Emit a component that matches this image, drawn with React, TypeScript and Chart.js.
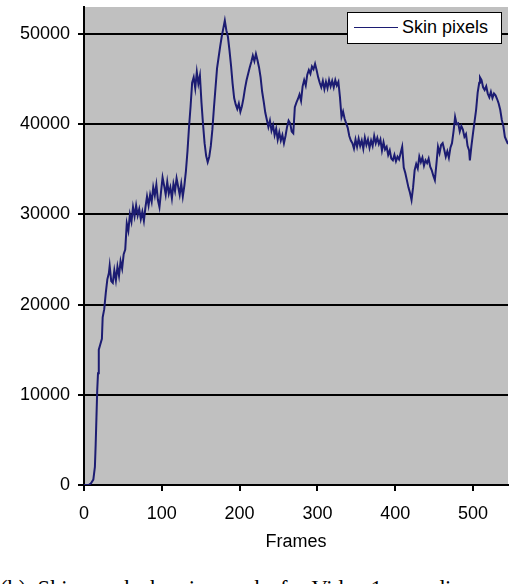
import React, { useEffect, useRef } from "react";
import { Chart, registerables } from "chart.js";

Chart.register(...registerables);

const frames = [
  0, 3, 6, 9, 12, 14, 15, 16, 17, 18,
  19, 21, 23, 24, 26, 28, 30, 32, 33, 35,
  37, 39, 41, 43, 45, 47, 49, 51, 53, 55,
  57, 59, 61, 63, 65, 67, 69, 71, 73, 75,
  77, 79, 81, 83, 85, 87, 89, 91, 93, 95,
  97, 99, 101, 103, 105, 107, 109, 111, 113, 115,
  117, 119, 121, 123, 125, 127, 129, 131, 133, 135,
  137, 139, 141, 143, 145, 147, 149, 151, 153, 155,
  157, 159, 161, 163, 165, 167, 169, 171, 173, 175,
  177, 179, 181, 183, 185, 187, 189, 191, 193, 195,
  197, 199, 201, 203, 205, 207, 209, 211, 213, 215,
  217, 219, 221, 223, 225, 227, 229, 231, 233, 235,
  237, 239, 241, 243, 245, 247, 249, 251, 253, 255,
  257, 259, 261, 263, 265, 267, 269, 271, 273, 275,
  277, 279, 281, 283, 285, 287, 289, 291, 293, 295,
  297, 299, 301, 303, 305, 307, 309, 311, 313, 315,
  317, 319, 321, 323, 325, 327, 329, 331, 333, 335,
  337, 339, 341, 343, 345, 347, 349, 351, 353, 355,
  357, 359, 361, 363, 365, 367, 369, 371, 373, 375,
  377, 379, 381, 383, 385, 387, 389, 391, 393, 395,
  397, 399, 401, 403, 405, 407, 409, 411, 413, 415,
  417, 419, 421, 423, 425, 427, 429, 431, 433, 435,
  437, 439, 441, 443, 445, 447, 449, 451, 453, 455,
  457, 459, 461, 463, 465, 467, 469, 471, 473, 475,
  477, 479, 481, 483, 485, 487, 489, 491, 493, 495,
  496, 498, 500, 502, 504, 506, 508, 509, 511, 513,
  515, 517, 519, 521, 523, 525, 527, 529, 531, 533,
  535, 537, 539, 541, 543, 545,
];

const skinPixels = [
  0, 0, 0, 200, 600, 2000, 4500, 7500, 10500, 12400,
  15000, 15600, 16200, 18600, 19500, 21300, 22800, 23500, 24300, 22600,
  22400, 23800, 22700, 24200, 23200, 24800, 24000, 25600, 26100, 29000,
  28200, 30000, 29200, 30800, 29800, 31000, 29900, 30600, 29500, 30300,
  29300, 30800, 32000, 31000, 32200, 31400, 33000, 32100, 33300, 31600,
  30800, 32500, 34100, 33200, 32200, 33600, 32300, 33000, 31800, 33400,
  32600, 34000, 33100, 32200, 33400, 32000, 33200, 34800, 37000, 39700,
  42000, 44600, 45200, 44000, 45800, 44500, 45400, 42400, 40000, 37900,
  36500, 35800, 36400, 37600, 39400, 41800, 44000, 46200, 47400, 48600,
  49700, 50600, 51500, 50400, 49700, 48200, 46500, 44500, 42900, 42200,
  41700, 42300, 41400, 42000, 42900, 44000, 44900, 45600, 46300, 46900,
  47600, 47000, 47800, 47100, 46300, 45200, 43600, 42500, 41300, 40500,
  39700, 40400, 39300, 39900, 38800, 39500, 38300, 39100, 38200, 38800,
  37900, 38700, 39700, 40400, 40100, 39200, 39000, 41900, 42400, 42800,
  43300, 42600, 44200, 44900, 44300, 45500, 46000, 45600, 46400, 46100,
  46700, 46000, 45200, 44600, 44100, 44800, 43900, 44700, 44000, 44900,
  44200, 44800, 44100, 44900, 44300, 44700, 43000, 40800, 41400, 40600,
  40100, 39600, 38700, 38200, 37900, 37300, 38300, 37500, 38400, 37600,
  38200, 37300, 38500, 37700, 38300, 37400, 38200, 37600, 38700, 37900,
  38500, 37800, 38300, 37100, 38000, 37200, 37500, 36600, 37100, 36200,
  36000, 36600, 35900, 36400, 36100, 36800, 37500, 35200, 34600, 33800,
  33000, 32400, 31600, 33000, 34900, 35600, 35100, 36400, 35800, 36300,
  35400, 36000, 35700, 36200, 35300, 34900, 34300, 33800, 35600, 37500,
  36800, 37700, 37900, 37200, 36400, 37000, 36300, 37400, 37900, 39200,
  40800, 40000, 40100, 39200, 39800, 39400, 38600, 38900, 37600, 37100,
  36000, 37600, 39000, 40300, 41600, 43500, 44600, 45200, 44900, 44100,
  43800, 44200, 43400, 43000, 43600, 42900, 43400, 43200, 42800, 42300,
  41600, 40500, 39800, 38600, 38200, 37800,
];

const xTicks = [0, 100, 200, 300, 400, 500];
const yTicks = [0, 10000, 20000, 30000, 40000, 50000];
const seriesLabel = "Skin pixels";
const xTitle = "Frames";
const caption = "(b)  Skin graph showing peaks for Video 1 regarding cor-";

const LINE_COLOR = "#1c1c72";
const SANS = "'Liberation Sans', Arial, sans-serif";

const plotBackground = {
  id: "plotBackground",
  beforeDraw(chart: any) {
    const { ctx, chartArea: a } = chart;
    ctx.save();
    ctx.fillStyle = "#c0c0c0";
    ctx.fillRect(a.left, a.top, a.right - a.left, a.bottom - a.top);
    ctx.restore();
  },
};

export default function App() {
  const canvasRef = useRef<HTMLCanvasElement | null>(null);

  useEffect(() => {
    const canvas = canvasRef.current;
    if (!canvas) return;
    const chart = new Chart(canvas, {
      type: "line",
      data: {
        datasets: [
          {
            label: seriesLabel,
            data: frames.map((f, i) => ({ x: f, y: skinPixels[i] })),
            borderColor: LINE_COLOR,
            borderWidth: 2,
            pointRadius: 0,
            tension: 0,
            fill: false,
          },
        ],
      },
      options: {
        responsive: false,
        animation: false,
        devicePixelRatio: 1,
        layout: { padding: { top: 7, right: 2, left: 0, bottom: 0 } },
        plugins: {
          legend: { display: false },
          tooltip: { enabled: false },
        },
        scales: {
          x: {
            type: "linear",
            min: 0,
            max: 545,
            afterBuildTicks: (s: any) => {
              s.ticks = xTicks.map((v) => ({ value: v }));
            },
            afterFit: (s: any) => {
              s.height = 75;
              s.paddingLeft = 0;
              s.paddingRight = 0;
            },
            grid: {
              drawOnChartArea: false,
              drawTicks: true,
              tickLength: 6,
              color: "#000",
              lineWidth: 2,
            },
            border: { display: true, color: "#000", width: 2 },
            ticks: {
              color: "#000",
              font: { family: SANS, size: 18 },
              padding: 12,
              maxRotation: 0,
              autoSkip: false,
              callback: (v: any) => String(v),
            },
            title: {
              display: true,
              text: xTitle,
              color: "#000",
              font: { family: SANS, size: 18 },
              padding: { top: 4, bottom: 7 },
            },
          },
          y: {
            type: "linear",
            min: 0,
            max: 53000,
            afterBuildTicks: (s: any) => {
              s.ticks = yTicks.map((v) => ({ value: v }));
            },
            afterFit: (s: any) => {
              s.width = 84;
              s.paddingTop = 0;
              s.paddingBottom = 0;
            },
            grid: {
              drawOnChartArea: true,
              drawTicks: true,
              tickLength: 6,
              color: "#000",
              lineWidth: 2,
            },
            border: { display: true, color: "#000", width: 2 },
            ticks: {
              color: "#000",
              font: { family: SANS, size: 18 },
              padding: 8,
              autoSkip: false,
              callback: (v: any) => String(v),
            },
          },
        },
      },
      plugins: [plotBackground],
    });
    return () => chart.destroy();
  }, []);

  return (
    <div
      style={{
        position: "absolute",
        left: 0,
        top: 0,
        width: 510,
        height: 584,
        overflow: "hidden",
        background: "#fff",
      }}
    >
      <canvas
        ref={canvasRef}
        width={510}
        height={560}
        style={{ position: "absolute", left: 0, top: 0, width: 510, height: 560 }}
      />
      <div
        style={{
          position: "absolute",
          left: 347,
          top: 12,
          width: 155,
          height: 32,
          boxSizing: "border-box",
          border: "1.5px solid #000",
          background: "#fff",
          fontFamily: SANS,
          fontSize: 18,
          color: "#000",
        }}
      >
        <div
          style={{
            position: "absolute",
            left: 6,
            top: 14,
            width: 44,
            height: 0,
            borderTop: `1.6px solid ${LINE_COLOR}`,
          }}
        />
        <div
          style={{
            position: "absolute",
            left: 54,
            top: 4,
            lineHeight: "20px",
            whiteSpace: "nowrap",
          }}
        >
          {seriesLabel}
        </div>
      </div>
      <div
        style={{
          position: "absolute",
          left: 0,
          top: 578,
          fontFamily: "'Liberation Serif', 'Times New Roman', serif",
          fontSize: 22.5,
          lineHeight: "22px",
          whiteSpace: "pre",
          color: "#000",
        }}
      >
        {caption}
      </div>
    </div>
  );
}
